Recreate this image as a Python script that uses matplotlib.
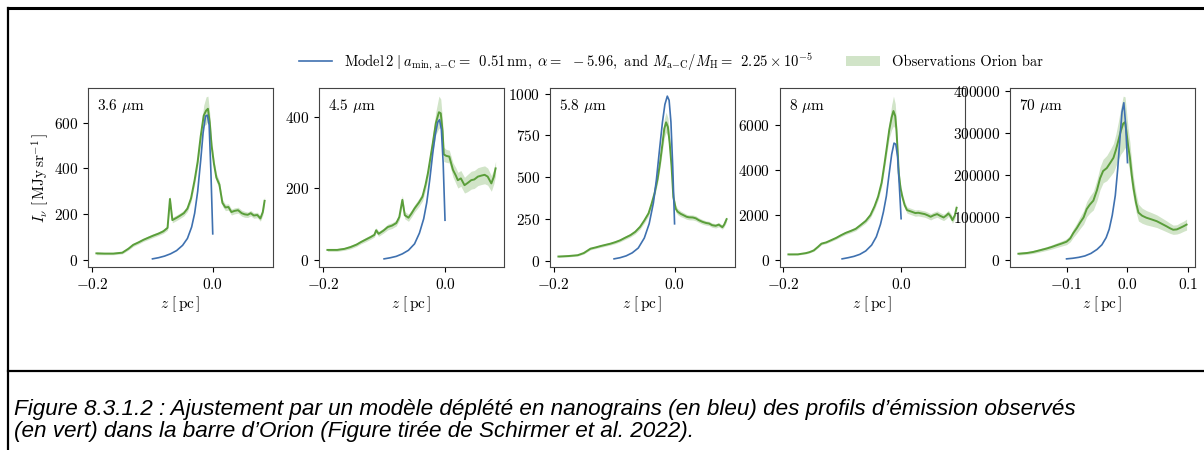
import numpy as np
import matplotlib
matplotlib.use("Agg")
import matplotlib.pyplot as plt
from matplotlib.lines import Line2D
from matplotlib.patches import Patch
from matplotlib.ticker import MultipleLocator, FixedLocator

plt.rcParams['font.family'] = 'serif'
plt.rcParams['font.serif'] = ['cmr10']
plt.rcParams['mathtext.fontset'] = 'cm'
plt.rcParams['axes.formatter.use_mathtext'] = True

# bandes et repères
bandes = ["3.6", "4.5", "5.8", "8", "70"]

# grille en z du modèle (pc), commune aux cinq bandes
z_mod = [-0.100, -0.090, -0.080, -0.070, -0.060, -0.050, -0.042, -0.035, -0.030,
         -0.025, -0.020, -0.016, -0.012, -0.009, -0.006, -0.003, 0.000]

I_mod_36 = [6, 11, 18, 28, 42, 65, 95, 145, 205, 300, 435, 555, 628, 632, 590, 380, 115]
I_mod_45 = [3, 6, 10, 17, 27, 45, 75, 115, 160, 225, 300, 350, 385, 392, 365, 270, 111]
I_mod_58 = [10, 17, 28, 46, 75, 135, 220, 345, 485, 660, 830, 935, 985, 960, 830, 560, 220]
I_mod_8 = [70, 120, 180, 270, 420, 680, 1050, 1600, 2150, 2850, 3900, 4700, 5200, 5150,
           4600, 3300, 1850]
I_mod_70 = [1600, 3000, 5200, 8500, 14500, 24000, 35000, 52000, 72000, 105000, 152000,
            215000, 295000, 350000, 372000, 320000, 230000]

# observations barre d'Orion : z, intensité, incertitude
z_obs_36 = [-0.193, -0.180, -0.165, -0.150, -0.140, -0.132, -0.123, -0.115, -0.107, -0.099,
            -0.090, -0.082, -0.075, -0.071, -0.067, -0.060, -0.055, -0.048, -0.042, -0.036,
            -0.030, -0.025, -0.020, -0.015, -0.011, -0.008, -0.005, -0.002, 0.002, 0.006,
            0.011, 0.016, 0.021, 0.026, 0.031, 0.036, 0.042, 0.048, 0.053, 0.058, 0.063,
            0.068, 0.074, 0.079, 0.083, 0.086]
I_obs_36 = [30, 29, 29, 33, 50, 67, 78, 89, 98, 107, 116, 126, 141, 267, 175, 185, 193, 205,
            225, 270, 350, 430, 540, 630, 652, 660, 600, 500, 420, 360, 330, 250, 230, 232,
            210, 215, 218, 205, 200, 198, 205, 195, 197, 182, 210, 259]
e_obs_36 = [6, 5, 5, 5, 6, 7, 7, 7, 8, 8, 8, 9, 10, 15, 12, 12, 12, 12, 13, 15, 18, 22, 28,
            45, 60, 55, 40, 30, 20, 18, 16, 15, 14, 14, 13, 13, 13, 13, 13, 12, 12, 12, 12,
            12, 14, 18]

z_obs_45 = [-0.193, -0.177, -0.165, -0.155, -0.145, -0.138, -0.130, -0.122, -0.116, -0.113,
            -0.109, -0.101, -0.094, -0.087, -0.080, -0.075, -0.070, -0.066, -0.060, -0.055,
            -0.050, -0.043, -0.037, -0.032, -0.028, -0.024, -0.020, -0.015, -0.010, -0.007,
            -0.004, -0.002, 0.002, 0.007, 0.013, 0.018, 0.021, 0.026, 0.032, 0.037, 0.043,
            0.048, 0.054, 0.060, 0.065, 0.070, 0.076, 0.080, 0.083]
I_obs_45 = [28, 28, 31, 36, 43, 50, 57, 64, 70, 83, 73, 82, 92, 96, 103, 120, 168, 125, 118,
            130, 144, 160, 177, 210, 243, 285, 327, 383, 413, 410, 360, 295, 291, 289, 252,
            235, 223, 228, 209, 215, 223, 225, 233, 236, 238, 233, 214, 232, 256]
e_obs_45 = [4, 4, 4, 5, 5, 5, 6, 6, 6, 7, 7, 7, 8, 8, 8, 9, 12, 10, 10, 10, 10, 11, 12, 14,
            16, 20, 24, 32, 45, 40, 30, 20, 18, 18, 20, 22, 22, 22, 22, 24, 25, 25, 25, 25,
            25, 24, 22, 20, 20]

z_obs_58 = [-0.192, -0.175, -0.160, -0.150, -0.139, -0.130, -0.122, -0.114, -0.106, -0.098,
            -0.090, -0.082, -0.073, -0.065, -0.057, -0.050, -0.043, -0.038, -0.033, -0.028,
            -0.024, -0.020, -0.017, -0.014, -0.011, -0.008, -0.005, -0.002, 0.002, 0.005,
            0.010, 0.014, 0.020, 0.024, 0.030, 0.035, 0.040, 0.046, 0.052, 0.057, 0.062,
            0.068, 0.073, 0.079, 0.082, 0.086]
I_obs_58 = [24, 27, 32, 45, 71, 79, 87, 94, 101, 110, 121, 136, 152, 172, 202, 240, 283, 340,
            404, 490, 586, 700, 790, 828, 800, 700, 566, 380, 310, 293, 280, 273, 262, 259,
            258, 253, 242, 232, 225, 222, 212, 208, 215, 200, 215, 248]
e_obs_58 = [5, 5, 5, 6, 7, 7, 8, 8, 8, 9, 9, 10, 11, 12, 14, 15, 16, 18, 20, 25, 30, 40, 55,
            60, 55, 45, 35, 25, 20, 18, 17, 16, 15, 15, 15, 15, 14, 14, 13, 13, 13, 13, 13,
            12, 13, 15]

z_obs_8 = [-0.191, -0.175, -0.161, -0.155, -0.148, -0.141, -0.135, -0.127, -0.119, -0.110,
           -0.102, -0.094, -0.085, -0.077, -0.069, -0.060, -0.052, -0.045, -0.039, -0.033,
           -0.028, -0.024, -0.020, -0.016, -0.013, -0.010, -0.008, -0.006, -0.004, -0.001,
           0.002, 0.006, 0.010, 0.018, 0.024, 0.029, 0.035, 0.040, 0.045, 0.050, 0.055,
           0.061, 0.066, 0.072, 0.077, 0.080, 0.084, 0.087, 0.091, 0.094]
I_obs_8 = [268, 270, 327, 370, 446, 600, 744, 800, 893, 1000, 1116, 1220, 1310, 1400, 1562,
           1750, 2009, 2400, 2827, 3450, 4315, 5050, 5804, 6350, 6622, 6400, 5804, 4900,
           3869, 3200, 2827, 2450, 2232, 2158, 2100, 2113, 2080, 2054, 2000, 1935, 2000,
           2054, 1980, 1905, 2000, 2083, 1950, 1786, 2000, 2336]
e_obs_8 = [30, 30, 35, 35, 40, 45, 50, 50, 55, 60, 65, 70, 75, 80, 85, 95, 110, 130, 150,
           180, 220, 280, 360, 550, 660, 550, 400, 280, 200, 170, 160, 150, 140, 140, 140,
           140, 140, 140, 140, 140, 140, 140, 140, 140, 140, 140, 140, 140, 150, 160]

z_obs_70 = [-0.179, -0.165, -0.155, -0.145, -0.133, -0.124, -0.116, -0.108, -0.100, -0.094,
            -0.089, -0.083, -0.078, -0.072, -0.067, -0.062, -0.056, -0.050, -0.045, -0.040,
            -0.034, -0.028, -0.023, -0.019, -0.015, -0.011, -0.007, -0.004, -0.002, 0.001,
            0.004, 0.007, 0.010, 0.014, 0.018, 0.024, 0.031, 0.040, 0.048, 0.056, 0.064,
            0.070, 0.075, 0.081, 0.086, 0.092, 0.097]
I_obs_70 = [13800, 15500, 17900, 21500, 26000, 30000, 34100, 38000, 42300, 50000, 62600,
            75000, 87000, 100000, 119500, 130000, 139800, 165000, 192700, 210000, 217000,
            230000, 241500, 260000, 282000, 305000, 322700, 326000, 306500, 270000, 241500,
            200000, 168300, 135000, 111400, 104000, 99200, 95000, 91000, 85000, 78900, 74000,
            70700, 71500, 74800, 79000, 82900]
e_obs_70 = [3000, 3000, 3500, 4000, 4500, 5000, 5500, 6000, 7000, 8000, 10000, 12000, 14000,
            16000, 18000, 20000, 22000, 25000, 27000, 28000, 30000, 32000, 34000, 38000,
            45000, 55000, 65000, 60000, 50000, 42000, 36000, 30000, 25000, 22000, 20000,
            18000, 17000, 16000, 15000, 14000, 13000, 12000, 11000, 11000, 12000, 12000, 13000]

modeles = [I_mod_36, I_mod_45, I_mod_58, I_mod_8, I_mod_70]
observations = [(z_obs_36, I_obs_36, e_obs_36), (z_obs_45, I_obs_45, e_obs_45),
                (z_obs_58, I_obs_58, e_obs_58), (z_obs_8, I_obs_8, e_obs_8),
                (z_obs_70, I_obs_70, e_obs_70)]
yticks = [[0, 200, 400, 600], [0, 200, 400], [0, 250, 500, 750, 1000],
          [0, 2000, 4000, 6000], [0, 100000, 200000, 300000, 400000]]

bleu = '#3f71b0'
vert = '#5a9e3a'

fig = plt.figure(figsize=(12.04, 4.5), dpi=100)
W, H = 1204.0, 450.0
gauches = [88, 319, 550, 780, 1010]

for i in range(5):
    ax = fig.add_axes([gauches[i] / W, 1 - 267 / H, 185 / W, 179 / H])
    z, I, e = [np.array(v, dtype=float) for v in observations[i]]
    ax.fill_between(z, I - e, I + e, color=vert, alpha=0.28, lw=0)
    ax.plot(z, I, color=vert, lw=1.4)
    ax.plot(z_mod, modeles[i], color=bleu, lw=1.2)
    ax.yaxis.set_major_locator(FixedLocator(yticks[i]))
    if i < 4:
        ax.xaxis.set_major_locator(MultipleLocator(0.2))
    else:
        ax.xaxis.set_major_locator(MultipleLocator(0.1))
    ax.ticklabel_format(axis='y', style='plain', useOffset=False)
    ax.tick_params(labelsize=11)
    for s in ax.spines.values():
        s.set_color('#444444')
    ax.text(0.05, 0.95, r"%s $\mu$m" % bandes[i], transform=ax.transAxes,
            ha='left', va='top', fontsize=11)
    ax.set_xlabel(r"$z\ [\,{\rm pc}\,]$", fontsize=11, labelpad=2)
    if i == 0:
        ax.set_ylabel(r"$I_\nu\ [\,{\rm MJy\,sr^{-1}}\,]$", fontsize=11, labelpad=2)

# légende commune
poignees = [Line2D([0], [0], color=bleu, lw=1.2),
            Patch(facecolor=vert, alpha=0.28, edgecolor='none')]
etiquettes = [r"Model$\,2\;|\;a_{\rm min,\,a{-}C} =\ \,0.51\,{\rm nm},\ \alpha =\ \,-5.96,$ and "
              r"$M_{\rm a{-}C}/M_{\rm H} =\ \,2.25\times10^{-5}$",
              "Observations Orion bar"]
fig.legend(poignees, etiquettes, loc='center', bbox_to_anchor=(0.557, 1 - 62 / H),
           ncol=2, frameon=False, fontsize=10.5, handlelength=2.3, columnspacing=2.3)

# cadre et légende de figure
fig.add_artist(Line2D([8 / W, 1.0], [1 - 8 / H, 1 - 8 / H], color='black', lw=2.2))
fig.add_artist(Line2D([8 / W, 8 / W], [1 - 8 / H, 0.0], color='black', lw=1.6))
fig.add_artist(Line2D([8 / W, 1.0], [1 - 371 / H, 1 - 371 / H], color='black', lw=1.6))

fig.text(14 / W, 1 - 409 / H,
         "Figure 8.3.1.2 : Ajustement par un modèle déplété en nanograins (en bleu) "
         "des profils d’émission observés",
         family='Liberation Sans', style='italic', fontsize=16.2, va='center', ha='left')
fig.text(14 / W, 1 - 432 / H,
         "(en vert) dans la barre d’Orion (Figure tirée de Schirmer et al. 2022).",
         family='Liberation Sans', style='italic', fontsize=16.2, va='center', ha='left')

fig.savefig('out.png', dpi=100)
